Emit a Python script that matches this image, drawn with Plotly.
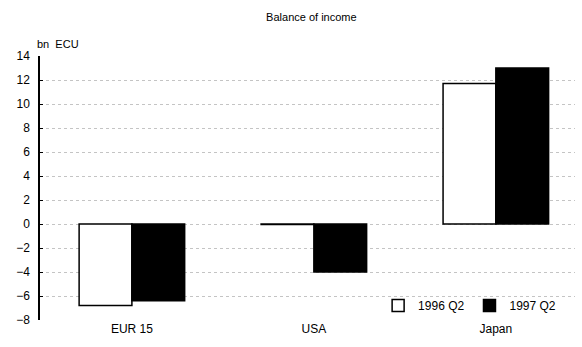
import plotly.graph_objects as go

# Balance of income, bn ECU
regions = ["EUR 15", "USA", "Japan"]
q2_1996 = [-6.8, -0.05, 11.7]
q2_1997 = [-6.4, -4.0, 13.0]
y_ticks = list(range(-8, 15, 2))

font = "Liberation Sans, Arial, sans-serif"

fig = go.Figure()
fig.add_trace(go.Bar(
    x=regions, y=q2_1996, name="1996 Q2",
    marker=dict(color="white", line=dict(color="black", width=1.5)),
))
fig.add_trace(go.Bar(
    x=regions, y=q2_1997, name="1997 Q2",
    marker=dict(color="black", line=dict(color="black", width=1.5)),
))

fig.update_layout(
    width=582, height=347,
    margin=dict(l=40, r=7, t=56, b=27),
    paper_bgcolor="white", plot_bgcolor="white",
    font=dict(family=font, size=11, color="black"),
    barmode="group", bargap=0.42, bargroupgap=0,
    title=dict(text="Balance of income", x=0.535, xanchor="center",
               y=0.95, yanchor="middle", font=dict(size=11)),
    showlegend=True,
    legend=dict(orientation="h", x=0.632, y=0.0, xanchor="left", yanchor="bottom",
                bgcolor="rgba(0,0,0,0)", font=dict(size=12),
                itemwidth=30, tracegroupgap=0, traceorder="normal"),
    xaxis=dict(
        range=[-0.505, 2.435], showgrid=False, zeroline=False,
        showline=False, ticks="", tickfont=dict(size=12),
    ),
    yaxis=dict(
        range=[-8, 14], tickvals=y_ticks, showgrid=True,
        gridcolor="#c4c4c4", griddash="dot", gridwidth=1,
        zeroline=False, showline=True, linecolor="black", linewidth=1.5,
        ticks="inside", ticklen=3, tickcolor="black",
        tickfont=dict(size=12), ticklabelstandoff=6,
    ),
    annotations=[dict(
        text="bn  ECU", xref="paper", yref="paper", x=-0.01, y=1.015,
        xanchor="left", yanchor="bottom", showarrow=False, font=dict(size=11),
    )],
)

fig.write_html("out.html")
